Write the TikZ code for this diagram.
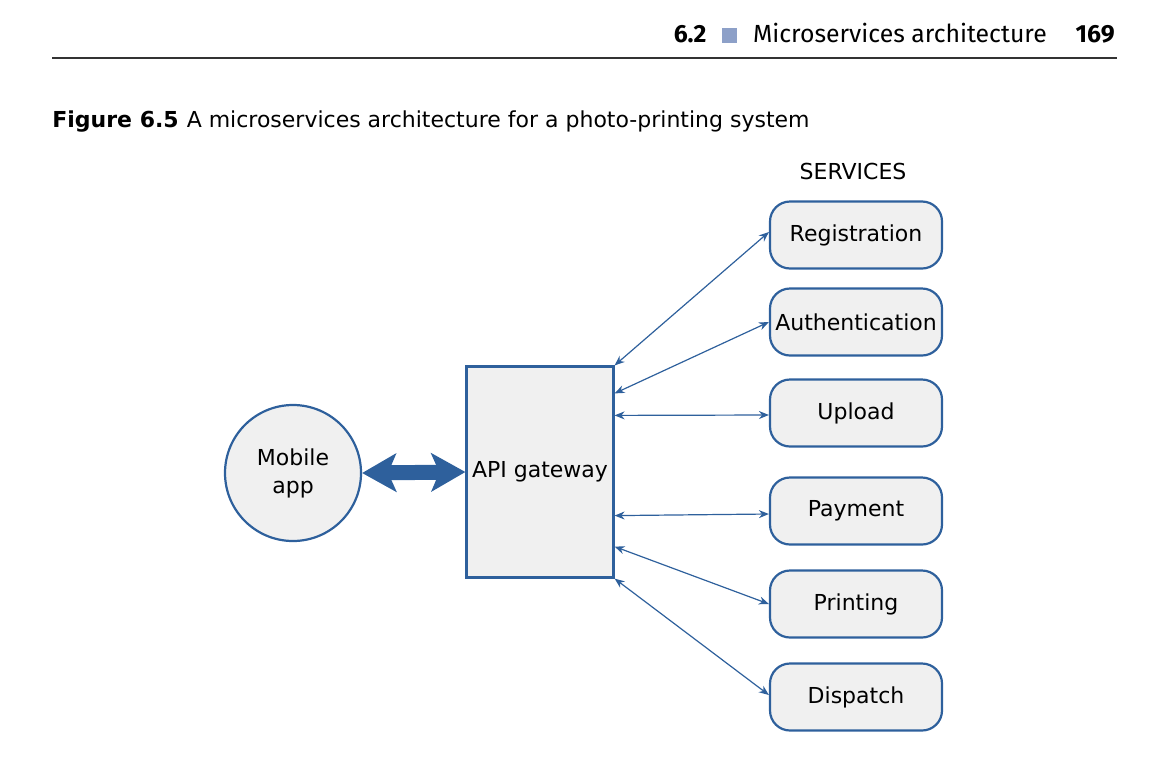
\documentclass[tikz,border=0pt]{standalone}
\usepackage{fontspec}
\setmainfont{DejaVu Sans}
\newfontfamily\headfont{Fira Sans}
\usetikzlibrary{positioning, calc, arrows.meta}
\definecolor{svcblue}{HTML}{2E609C}
\definecolor{svcfill}{HTML}{F0F0F0}
\definecolor{headsq}{HTML}{8DA0C8}

\begin{document}
\begin{tikzpicture}[
        x=0.5pt, y=-0.5pt,
        % Styles
        svc/.style={draw=svcblue, line width=1.1pt, fill=svcfill, rounded corners=10pt, minimum width=86pt, minimum height=33.5pt, inner xsep=1pt, font=\fontsize{11}{13}\selectfont},
        gateway/.style={draw=svcblue, line width=1.1pt, fill=svcfill, minimum width=73.5pt, minimum height=105.5pt, inner sep=1pt, font=\fontsize{11}{13}\selectfont},
        app/.style={circle, draw=svcblue, line width=1.1pt, fill=svcfill, minimum size=68pt, align=center, font=\fontsize{11}{14}\selectfont},
        link/.style={svcblue, line width=0.6pt, {Stealth[length=5pt, width=4pt]}-{Stealth[length=5pt, width=4pt]}},
        biglink/.style={svcblue, line width=7.5pt, {Stealth[length=17pt, width=19pt, inset=4pt]}-{Stealth[length=17pt, width=19pt, inset=4pt]}},
        headtext/.style={inner sep=0pt, font=\headfont\fontsize{12.4}{15}\selectfont},
    ]
        \useasboundingbox (0,0) rectangle (1170,766);

        % === Running head ===
        \node[headtext, anchor=base east] (pagenum) at (1115,42) {\bfseries 169};
        \node[headtext, base left=14pt of pagenum] (runtitle) {Microservices architecture};
        \node[fill=headsq, minimum size=7.5pt, inner sep=0pt, anchor=south east] (headsq) at ($(runtitle.base west)+(-15,1)$) {};
        \node[headtext, anchor=base east] (secnum) at ($(headsq.south west)+(-15,-1)$) {\bfseries 6.2};
        \draw[black!80, line width=0.7pt] (52,58) -- (1117,58);

        % === Caption ===
        \node[anchor=base west, inner sep=0pt, font=\fontsize{11}{13}\selectfont] (caption) at (52,127) {\textbf{Figure 6.5}\hspace{4pt}A microservices architecture for a photo-printing system};

        % === Gateway and client ===
        \node[gateway] (gw) at (540,472) {API gateway};
        \node[app] (app) at (293,473) {Mobile\\app};

        % === Services ===
        \node[font=\fontsize{11}{13}\selectfont] (svctitle) at (853,171) {SERVICES};
        \node[svc] (reg) at (856,235) {Registration};
        \node[svc] (auth) at (856,322) {Authentication};
        \node[svc] (upload) at (856,413) {Upload};
        \node[svc] (pay) at (856,511) {Payment};
        \node[svc] (print) at (856,604) {Printing};
        \node[svc] (disp) at (856,697) {Dispatch};

        % === Connectors ===
        \draw[biglink] (app.east) -- (gw.west);
        \draw[link] (gw.north east) -- ($(reg.west)+(0,-3)$);
        \draw[link] ($(gw.north east)+(0,28)$) -- (auth.west);
        \draw[link] ($(gw.north east)+(0,50)$) -- ($(upload.west)+(0,2)$);
        \draw[link] ($(gw.south east)+(0,-63)$) -- ($(pay.west)+(0,3)$);
        \draw[link] ($(gw.south east)+(0,-32)$) -- (print.west);
        \draw[link] (gw.south east) -- ($(disp.west)+(0,-2)$);
    \end{tikzpicture}
\end{document}
